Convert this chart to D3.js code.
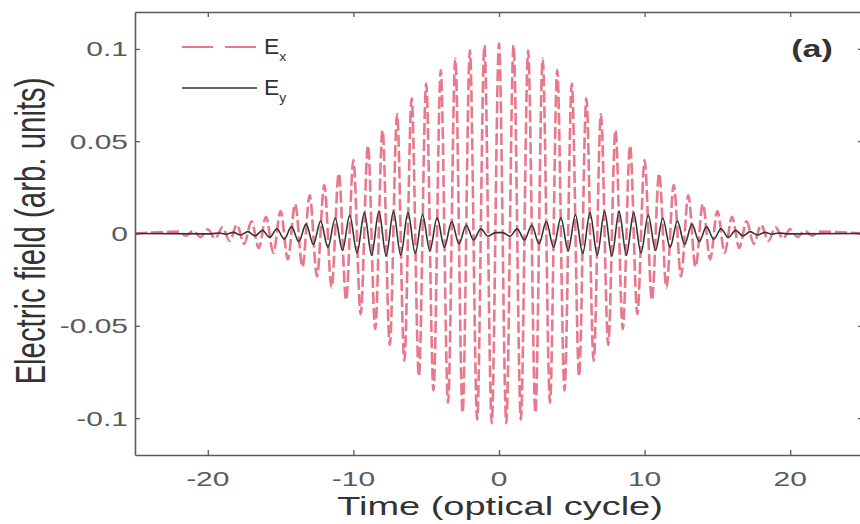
<!DOCTYPE html>
<html><head><meta charset="utf-8">
<script src="https://cdn.jsdelivr.net/npm/d3@7"></script>
<style>body{margin:0;background:#fff}svg{display:block}</style>
</head><body><svg id="c" width="860" height="524"></svg>
<script>
// ---- data (extrema of each half-cycle) ----
const xTicks = [-20, -10, 0, 10, 20];
const yTicks = [-0.1, -0.05, 0, 0.05, 0.1];
const yTickLabels = ["-0.1", "-0.05", "0", "0.05", "0.1"];
const xTickLabels = ["-20", "-10", "0", "10", "20"];
const seriesNames = ["x", "y"];

const exTime = [-25,-22,-21.5,-21,-20.5,-20,-19.5,-19,-18.5,-18,-17.5,-17,-16.5,-16,-15.5,-15,-14.5,-14,-13.5,-13,-12.5,-12,-11.5,-11,-10.5,-10,-9.5,-9,-8.5,-8,-7.5,-7,-6.5,-6,-5.5,-5,-4.5,-4,-3.5,-3,-2.5,-2,-1.5,-1,-0.5,0,0.5,1,1.5,2,2.5,3,3.5,4,4.5,5,5.5,6,6.5,7,7.5,8,8.5,9,9.5,10,10.5,11,11.5,12,12.5,13,13.5,14,14.5,15,15.5,16,16.5,17,17.5,18,18.5,19,19.5,20,20.5,21,21.5,22,25];
const exValue = [0,
 0.0010,-0.0012,0.0015,-0.0019,0.0023,-0.0028,0.0033,-0.0040,0.0047,-0.0056,
 0.0066,-0.0078,0.0091,-0.0105,0.0122,-0.0140,0.0160,-0.0182,0.0207,-0.0233,
 0.0262,-0.0293,0.0326,-0.0361,0.0398,-0.0437,0.0477,-0.0518,0.0561,-0.0604,
 0.0647,-0.0690,0.0732,-0.0773,0.0812,-0.0850,0.0885,-0.0917,0.0946,-0.0971,
 0.0992,-0.1008,0.1020,-0.1028,
 0.1030,
 -0.1028,0.1020,-0.1008,0.0992,
 -0.0971,0.0946,-0.0917,0.0885,-0.0850,0.0812,-0.0773,0.0732,-0.0690,0.0647,
 -0.0604,0.0561,-0.0518,0.0477,-0.0437,0.0398,-0.0361,0.0326,-0.0293,0.0262,
 -0.0233,0.0207,-0.0182,0.0160,-0.0140,0.0122,-0.0105,0.0091,-0.0078,0.0066,
 -0.0056,0.0047,-0.0040,0.0033,-0.0028,0.0023,-0.0019,0.0015,-0.0012,0.0010,
 0];

const eyTime = [-25,-19.75,-19.25,-18.75,-18.25,-17.75,-17.25,-16.75,-16.25,-15.75,-15.25,-14.75,-14.25,-13.75,-13.25,-12.75,-12.25,-11.75,-11.25,-10.75,-10.25,-9.75,-9.25,-8.75,-8.25,-7.75,-7.25,-6.75,-6.25,-5.75,-5.25,-4.75,-4.25,-3.75,-3.25,-2.75,-2.25,-1.75,-1.25,-0.75,-0.25,
 0.25,0.75,1.25,1.75,2.25,2.75,3.25,3.75,4.25,4.75,5.25,5.75,6.25,6.75,7.25,7.75,8.25,8.75,9.25,9.75,10.25,10.75,11.25,11.75,12.25,12.75,13.25,13.75,14.25,14.75,15.25,15.75,16.25,16.75,17.25,17.75,18.25,18.75,19.25,19.75,25];
const eyValue = [0,
 -0.0002,0.0003,-0.0004,0.0006,-0.0008,0.0010,-0.0013,0.0017,-0.0021,0.0026,
 -0.0031,0.0037,-0.0044,0.0051,-0.0059,0.0067,-0.0075,0.0083,-0.0091,0.0099,
 -0.0106,0.0112,-0.0117,0.0120,-0.0121,0.0120,-0.0117,0.0113,-0.0108,0.0101,
 -0.0093,0.0085,-0.0075,0.0065,-0.0055,0.0045,-0.0035,0.0025,-0.0015,0.0005,
 0.0005,-0.0015,0.0025,-0.0035,0.0045,-0.0055,0.0065,-0.0075,0.0085,-0.0093,
 0.0101,-0.0108,0.0113,-0.0117,0.0120,-0.0121,0.0120,-0.0117,0.0112,-0.0106,
 0.0099,-0.0091,0.0083,-0.0075,0.0067,-0.0059,0.0051,-0.0044,0.0037,-0.0031,
 0.0026,-0.0021,0.0017,-0.0013,0.0010,-0.0008,0.0006,-0.0004,0.0003,-0.0002,
 0];

// ---- layout ----
const L = 135, R = 863, T = 12, B = 455;
const svg = d3.select("#c");
const x = d3.scaleLinear().domain([-25, 25]).range([L, R]);
const y = d3.scaleLinear().domain([-0.12, 0.12]).range([B, T]);
const SQ = 0.7; // vertical squash of the original picture's text
const axisCol = "#5a5a5a";
const exCol = "#e8788c";

svg.append("defs").append("clipPath").attr("id", "clip")
  .append("rect").attr("x", L).attr("y", T).attr("width", R - L).attr("height", B - T);

const line = d3.line().x(d => x(d[0])).y(d => y(d[1])).curve(d3.curveMonotoneX);
const exData = d3.zip(exTime, exValue);
const eyData = d3.zip(eyTime, eyValue);

const plot = svg.append("g").attr("clip-path", "url(#clip)");
plot.append("path").datum(exData).attr("d", line)
  .attr("fill", "none").attr("stroke", exCol).attr("stroke-width", 2.6)
  .attr("stroke-dasharray", "12,4");
plot.append("path").datum(eyData).attr("d", line)
  .attr("fill", "none").attr("stroke", "#333").attr("stroke-width", 1.6);

// axes (inward ticks, box)
function styleAxis(g) {
  g.selectAll("path").attr("stroke", axisCol).attr("stroke-width", 1.6);
  g.selectAll("line").attr("stroke", axisCol).attr("stroke-width", 1.3);
  g.selectAll("text").remove();
}
svg.append("g").attr("transform", `translate(0,${B})`)
  .call(d3.axisBottom(x).tickValues(xTicks).tickSize(-5).tickSizeOuter(0).tickFormat("")).call(styleAxis);
svg.append("g").attr("transform", `translate(0,${T})`)
  .call(d3.axisTop(x).tickValues(xTicks).tickSize(-5).tickSizeOuter(0).tickFormat("")).call(styleAxis);
svg.append("g").attr("transform", `translate(${L},0)`)
  .call(d3.axisLeft(y).tickValues(yTicks).tickSize(-5).tickSizeOuter(0).tickFormat("")).call(styleAxis);
svg.append("g").attr("transform", `translate(${R},0)`)
  .call(d3.axisRight(y).tickValues(yTicks).tickSize(-5).tickSizeOuter(0).tickFormat("")).call(styleAxis);

const FONT = "'Liberation Sans', Arial, sans-serif";

// tick labels
svg.append("g").selectAll("g").data(xTicks).join("g")
  .attr("transform", (d) => `translate(${x(d)},486) scale(1,${SQ})`)
  .append("text").attr("text-anchor", "middle").attr("font-family", FONT)
  .attr("font-size", 30).attr("fill", "#5a5a5a").text((d, i) => xTickLabels[i]);
svg.append("g").selectAll("g").data(yTicks).join("g")
  .attr("transform", (d) => `translate(128,${y(d) + 7.5}) scale(1,${SQ})`)
  .append("text").attr("text-anchor", "end").attr("font-family", FONT)
  .attr("font-size", 30).attr("fill", "#5a5a5a").text((d, i) => yTickLabels[i]);

// axis titles
svg.append("g").attr("transform", `translate(500,515) scale(1,${SQ})`)
  .append("text").attr("text-anchor", "middle").attr("font-family", FONT)
  .attr("font-size", 38).attr("fill", "#333").text("Time (optical cycle)");
svg.append("g").attr("transform", `translate(45,231) rotate(-90) scale(${SQ},1)`)
  .append("text").attr("text-anchor", "middle").attr("font-family", FONT)
  .attr("font-size", 42).attr("fill", "#333").text("Electric field (arb. units)");

// panel label
svg.append("g").attr("transform", `translate(812,57) scale(1,${SQ})`)
  .append("text").attr("text-anchor", "middle").attr("font-family", FONT)
  .attr("font-weight", "bold").attr("font-size", 34).attr("fill", "#333").text("(a)");

// legend
const leg = [
  {name: seriesNames[0], y: 47, stroke: exCol, dash: "31,12", w: 2},
  {name: seriesNames[1], y: 88, stroke: "#333", dash: null, w: 1.6}
];
leg.forEach(d => {
  svg.append("line").attr("x1", 182).attr("x2", 257).attr("y1", d.y).attr("y2", d.y)
    .attr("stroke", d.stroke).attr("stroke-width", d.w).attr("stroke-dasharray", d.dash);
  const g = svg.append("g").attr("transform", `translate(264,${d.y + 7}) scale(1,0.95)`);
  const t = g.append("text").attr("font-family", FONT).attr("font-size", 23).attr("fill", "#333");
  t.append("tspan").text("E");
  t.append("tspan").attr("font-size", 14).attr("dy", 7).text(d.name);
});
</script></body></html>
